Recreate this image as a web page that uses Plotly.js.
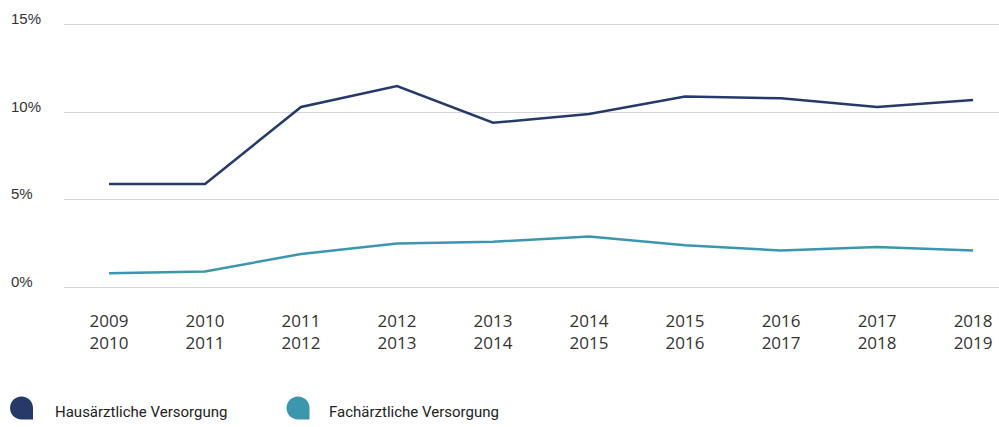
<!DOCTYPE html>
<html>
<head>
<meta charset="utf-8">
<script src="https://cdn.plot.ly/plotly-3.0.1.min.js"></script>
<style>
html,body{margin:0;padding:0;background:#fff;}
#chart{width:999px;height:427px;}
</style>
</head>
<body>
<div id="chart"></div>
<script>
// ---- data ----
var categories = ["2009<br>2010","2010<br>2011","2011<br>2012","2012<br>2013","2013<br>2014","2014<br>2015","2015<br>2016","2016<br>2017","2017<br>2018","2018<br>2019"];
var hausaerztlich = [5.9, 5.9, 10.3, 11.5, 9.4, 9.9, 10.9, 10.8, 10.3, 10.7];
var fachaerztlich = [0.8, 0.9, 1.9, 2.5, 2.6, 2.9, 2.4, 2.1, 2.3, 2.1];
var yTickVals = [0, 5, 10, 15];
var yTickText = ["0%\u2007", "5%\u2007", "10%", "15%"];
var seriesNames = ["Hausärztliche Versorgung", "Fachärztliche Versorgung"];
var seriesColors = ["#263a69", "#3b96ae"];

// ---- layout geometry ----
var W = 999, H = 427;
var M = {l: 64, r: 0, t: 23, b: 138};
var pw = W - M.l - M.r, ph = H - M.t - M.b;
function px(x){ return (x - M.l) / pw; }
function py(y){ return (H - M.b - y) / ph; }

function drop(cx, cy, r){
  var k = 0.5523 * r;
  var pts = [
    ["M", cx + r, cy],
    ["L", cx + r, cy + r],
    ["L", cx, cy + r],
    ["C", cx - k, cy + r, cx - r, cy + k, cx - r, cy],
    ["C", cx - r, cy - k, cx - k, cy - r, cx, cy - r],
    ["C", cx + k, cy - r, cx + r, cy - k, cx + r, cy]
  ];
  var s = "";
  pts.forEach(function(p){
    s += p[0];
    var parts = [];
    for (var i = 1; i < p.length; i += 2){
      parts.push(px(p[i]).toFixed(5) + "," + py(p[i+1]).toFixed(5));
    }
    s += parts.join(" ") + " ";
  });
  return s + "Z";
}

var traces = [
  {x: categories, y: hausaerztlich, type: "scatter", mode: "lines", name: seriesNames[0],
   line: {color: seriesColors[0], width: 2.5}, hoverinfo: "skip"},
  {x: categories, y: fachaerztlich, type: "scatter", mode: "lines", name: seriesNames[1],
   line: {color: seriesColors[1], width: 2.5}, hoverinfo: "skip"}
];

var legendFont = {family: "Roboto, 'Liberation Sans', sans-serif", size: 15, color: "#222"};

var layout = {
  width: W, height: H,
  margin: M,
  paper_bgcolor: "#fff", plot_bgcolor: "#fff",
  showlegend: false,
  xaxis: {
    type: "category",
    range: [-0.469, 9.27],
    showgrid: false, zeroline: false, showline: false,
    ticks: "", ticklabelstandoff: 20,
    tickfont: {family: "'Open Sans', 'Liberation Sans', sans-serif", size: 17, color: "#333"},
    fixedrange: true
  },
  yaxis: {
    range: [-0.1, 15.1],
    tickvals: yTickVals, ticktext: yTickText,
    ticklabelshift: -6,
    showgrid: true, gridcolor: "#d4d4dc", gridwidth: 1,
    zeroline: false, showline: false, ticks: "",
    ticklabelstandoff: 22,
    tickfont: {family: "'Liberation Sans', Arial, sans-serif", size: 15, color: "#333"},
    fixedrange: true
  },
  shapes: [
    {type: "path", xref: "paper", yref: "paper", path: drop(21.5, 408, 11.5),
     fillcolor: seriesColors[0], line: {width: 0}},
    {type: "path", xref: "paper", yref: "paper", path: drop(298, 408, 11.5),
     fillcolor: seriesColors[1], line: {width: 0}}
  ],
  annotations: [
    {xref: "paper", yref: "paper", x: px(53), y: py(412), xanchor: "left", yanchor: "middle",
     text: seriesNames[0], showarrow: false, font: legendFont},
    {xref: "paper", yref: "paper", x: px(327), y: py(412), xanchor: "left", yanchor: "middle",
     text: seriesNames[1], showarrow: false, font: legendFont}
  ]
};

Plotly.newPlot("chart", traces, layout, {displayModeBar: false, staticPlot: true});
</script>
</body>
</html>
